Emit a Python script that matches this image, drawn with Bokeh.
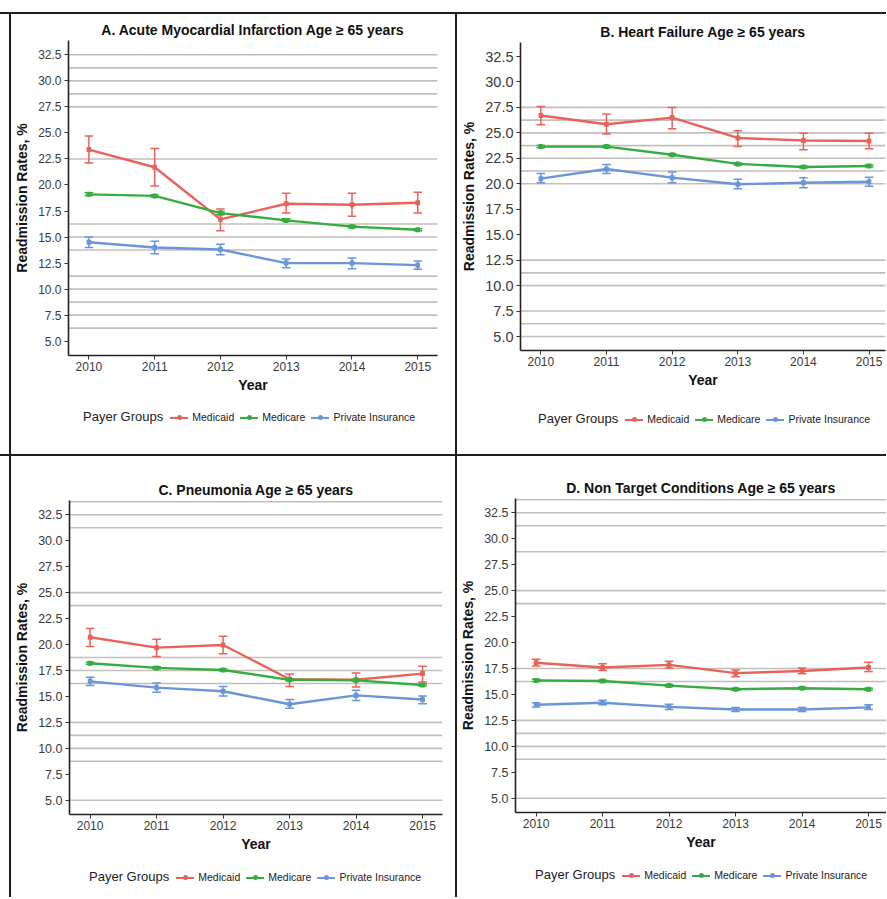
from bokeh.plotting import figure
from bokeh.models import ColumnDataSource, Range1d, FixedTicker, Div
from bokeh.layouts import row, column
from bokeh.embed import file_html
from bokeh.resources import INLINE

years = [2010, 2011, 2012, 2013, 2014, 2015]
y_ticks = [5.0, 7.5, 10.0, 12.5, 15.0, 17.5, 20.0, 22.5, 25.0, 27.5, 30.0, 32.5]
groups = ["Medicaid", "Medicare", "Private Insurance"]

# Panel A: Acute Myocardial Infarction
a_medicaid = [23.4, 21.7, 16.7, 18.2, 18.1, 18.3]
a_medicaid_lo = [22.1, 19.9, 15.6, 17.3, 17.0, 17.3]
a_medicaid_hi = [24.7, 23.5, 17.7, 19.2, 19.2, 19.3]
a_medicare = [19.1, 18.95, 17.3, 16.6, 16.0, 15.7]
a_medicare_lo = [19.0, 18.85, 17.15, 16.5, 15.9, 15.6]
a_medicare_hi = [19.25, 19.05, 17.45, 16.75, 16.1, 15.8]
a_private = [14.5, 14.0, 13.8, 12.5, 12.5, 12.3]
a_private_lo = [14.0, 13.4, 13.3, 12.05, 11.95, 11.9]
a_private_hi = [15.0, 14.6, 14.3, 12.9, 13.0, 12.7]

# Panel B: Heart Failure
b_medicaid = [26.7, 25.85, 26.5, 24.5, 24.25, 24.2]
b_medicaid_lo = [25.8, 24.9, 25.4, 23.65, 23.35, 23.45]
b_medicaid_hi = [27.6, 26.85, 27.5, 25.2, 24.95, 24.95]
b_medicare = [23.65, 23.65, 22.85, 21.95, 21.65, 21.75]
b_medicare_lo = [23.55, 23.55, 22.75, 21.85, 21.55, 21.65]
b_medicare_hi = [23.75, 23.75, 22.95, 22.05, 21.75, 21.85]
b_private = [20.5, 21.45, 20.6, 19.95, 20.1, 20.2]
b_private_lo = [20.1, 21.0, 20.1, 19.5, 19.6, 19.75]
b_private_hi = [21.0, 21.9, 21.15, 20.45, 20.6, 20.65]

# Panel C: Pneumonia
c_medicaid = [20.7, 19.7, 19.95, 16.65, 16.6, 17.2]
c_medicaid_lo = [19.8, 18.85, 19.1, 15.95, 15.9, 16.4]
c_medicaid_hi = [21.55, 20.5, 20.8, 17.15, 17.25, 17.9]
c_medicare = [18.2, 17.75, 17.55, 16.6, 16.55, 16.1]
c_medicare_lo = [18.1, 17.65, 17.45, 16.5, 16.45, 16.0]
c_medicare_hi = [18.3, 17.85, 17.65, 16.7, 16.65, 16.2]
c_private = [16.45, 15.85, 15.5, 14.25, 15.1, 14.7]
c_private_lo = [16.05, 15.4, 15.05, 13.85, 14.6, 14.3]
c_private_hi = [16.85, 16.3, 15.95, 14.7, 15.6, 15.05]

# Panel D: Non Target Conditions
d_medicaid = [18.05, 17.6, 17.85, 17.05, 17.25, 17.6]
d_medicaid_lo = [17.75, 17.3, 17.55, 16.7, 17.0, 17.2]
d_medicaid_hi = [18.4, 17.95, 18.2, 17.35, 17.55, 18.1]
d_medicare = [16.35, 16.3, 15.85, 15.5, 15.6, 15.5]
d_medicare_lo = [16.25, 16.2, 15.75, 15.4, 15.5, 15.4]
d_medicare_hi = [16.45, 16.4, 15.95, 15.6, 15.7, 15.6]
d_private = [14.0, 14.2, 13.8, 13.55, 13.55, 13.75]
d_private_lo = [13.8, 14.0, 13.55, 13.35, 13.35, 13.55]
d_private_hi = [14.2, 14.45, 14.05, 13.75, 13.75, 14.0]

# horizontal rules visible in each panel
a_rules = [32.5, 31.25, 30.0, 28.75, 27.5, 22.5, 16.25, 15.0, 13.75, 11.25, 10.0, 8.75, 7.5, 6.25]
b_rules = [27.5, 26.25, 25.0, 23.75, 22.5, 21.25, 20.0, 12.5, 11.25, 10.0, 7.5, 6.25, 5.0]
c_rules = [33.75, 32.5, 31.25, 25.0, 23.75, 18.75, 17.5, 16.25, 12.5, 11.25, 10.0, 8.75, 5.0]
d_rules = [33.75, 32.5, 31.25, 28.75, 25.0, 23.75, 17.5, 16.25, 12.5, 11.25, 10.0, 8.75, 5.0]

colors = ["#E8625A", "#36AC40", "#6A95D8"]
RULE = "#C4BEBA"
FONT = "Liberation Sans"
X0 = 2009.69
CAP = 0.065
DOT = 0.035


def panel(title, series, rules, width, height, mb_left, mb_top, mb_right, mb_bottom,
          x_end, ytick_size):
    p = figure(width=width, height=height, output_backend="svg", toolbar_location=None,
               x_range=Range1d(X0, x_end), y_range=Range1d(3.625, 33.875),
               min_border_left=mb_left, min_border_top=mb_top,
               min_border_right=mb_right, min_border_bottom=mb_bottom)
    p.outline_line_color = None
    p.xgrid.visible = False
    p.ygrid.visible = False

    # everything drawn through one multi_line renderer
    xs, ys, cl, lw = [], [], [], []
    for v in rules:
        xs.append([X0, x_end]); ys.append([v, v]); cl.append(RULE); lw.append(1.6)
    for (name, vals, lo, hi), c in zip(series, colors):
        for x, l, h in zip(years, lo, hi):
            xs.append([x, x]); ys.append([l, h]); cl.append(c); lw.append(1.5)
            xs.append([x - CAP, x + CAP]); ys.append([l, l]); cl.append(c); lw.append(1.5)
            xs.append([x - CAP, x + CAP]); ys.append([h, h]); cl.append(c); lw.append(1.5)
        xs.append(list(years)); ys.append(list(vals)); cl.append(c); lw.append(2.4)
        for x, v in zip(years, vals):
            xs.append([x - DOT, x + DOT]); ys.append([v, v]); cl.append(c); lw.append(5.0)
    src = ColumnDataSource(dict(xs=xs, ys=ys, color=cl, lw=lw))
    p.multi_line(xs="xs", ys="ys", line_color="color", line_width="lw", source=src)

    p.title.text = title
    p.title.align = "center"
    p.title.text_font = FONT
    p.title.text_font_style = "bold"
    p.title.text_font_size = "14px"
    p.title.text_color = "#111111"
    p.title.standoff = 6

    p.xaxis.ticker = FixedTicker(ticks=years)
    p.yaxis.ticker = FixedTicker(ticks=y_ticks)
    p.yaxis.major_label_overrides = {t: f"{t:.1f}" for t in y_ticks}
    for ax in (p.xaxis, p.yaxis):
        ax.axis_line_color = "#222222"
        ax.axis_line_width = 1.6
        ax.major_tick_line_color = "#333333"
        ax.major_tick_in = 0
        ax.major_tick_out = 4
        ax.minor_tick_line_color = None
        ax.major_label_text_font = FONT
        ax.major_label_text_color = "#3A3A3A"
        ax.axis_label_text_font = FONT
        ax.axis_label_text_font_style = "bold"
        ax.axis_label_text_font_size = "14px"
        ax.axis_label_text_color = "#111111"
    p.xaxis.major_label_text_font_size = "12px"
    p.yaxis.major_label_text_font_size = ytick_size
    p.xaxis.major_label_standoff = 2
    p.yaxis.major_label_standoff = 3
    p.xaxis.axis_label = "Year"
    p.yaxis.axis_label = "Readmission Rates, %"
    p.xaxis.axis_label_standoff = 3
    p.yaxis.axis_label_standoff = 5
    return p


def legend_div(width, height, left, top):
    parts = ['<div style="margin-left:%dpx; margin-top:%dpx; white-space:nowrap; '
             'font-family:\'Liberation Sans\', Arial, sans-serif; color:#222222; '
             'line-height:16px;">' % (left, top),
             '<span style="font-size:13px;">Payer Groups</span>']
    for i, (g, c) in enumerate(zip(groups, colors)):
        ml = 7 if i == 0 else 6
        parts.append(
            '<span style="display:inline-block; position:relative; width:18px; height:2px; '
            'background:%s; vertical-align:middle; margin:0 4px 0 %dpx;">'
            '<span style="position:absolute; left:6.5px; top:-1.5px; width:5px; height:5px; '
            'border-radius:50%%; background:%s;"></span></span>' % (c, ml, c))
        parts.append('<span style="font-size:10.5px;">%s</span>' % g)
    parts.append('</div>')
    return Div(text="".join(parts), width=width, height=height, margin=0)


pa = panel("A. Acute Myocardial Infarction Age \u2265 65 years",
           [(groups[0], a_medicaid, a_medicaid_lo, a_medicaid_hi),
            (groups[1], a_medicare, a_medicare_lo, a_medicare_hi),
            (groups[2], a_private, a_private_lo, a_private_hi)],
           a_rules, 444, 392, 52, 26, 18, 51, 2015.3, "12px")
pb = panel("B. Heart Failure Age \u2265 65 years",
           [(groups[0], b_medicaid, b_medicaid_lo, b_medicaid_hi),
            (groups[1], b_medicare, b_medicare_lo, b_medicare_hi),
            (groups[2], b_private, b_private_lo, b_private_hi)],
           b_rules, 429, 392, 63, 28, 1, 56, 2015.25, "14.5px")
pc = panel("C. Pneumonia Age \u2265 65 years",
           [(groups[0], c_medicaid, c_medicaid_lo, c_medicaid_hi),
            (groups[1], c_medicare, c_medicare_lo, c_medicare_hi),
            (groups[2], c_private, c_private_lo, c_private_hi)],
           c_rules, 444, 400, 57, 44, 13, 42, 2015.3, "12.5px")
pd_ = panel("D. Non Target Conditions Age \u2265 65 years",
            [(groups[0], d_medicaid, d_medicaid_lo, d_medicaid_hi),
             (groups[1], d_medicare, d_medicare_lo, d_medicare_hi),
             (groups[2], d_private, d_private_lo, d_private_hi)],
            d_rules, 429, 400, 57, 42, 0, 44, 2015.27, "12.5px")

cell_a = column(pa, legend_div(444, 48, 72, 3), spacing=0)
cell_b = column(pb, legend_div(429, 48, 81, 5), spacing=0)
cell_c = column(pc, legend_div(444, 41, 78, 13), spacing=0)
cell_d = column(pd_, legend_div(429, 41, 78, 11), spacing=0)


def block(w, h, color):
    return Div(width=w, height=h, margin=0, styles={"background-color": color})


layout = column(
    block(886, 12, "white"),
    block(886, 2, "#1E1E1E"),
    row(block(9, 440, "white"), block(2, 440, "#1E1E1E"), cell_a,
        block(2, 440, "#1E1E1E"), cell_b, spacing=0),
    block(886, 2, "#1E1E1E"),
    row(block(9, 441, "white"), block(2, 441, "#1E1E1E"), cell_c,
        block(2, 441, "#1E1E1E"), cell_d, spacing=0),
    spacing=0,
)

open("out.html", "w").write(file_html(layout, INLINE))
